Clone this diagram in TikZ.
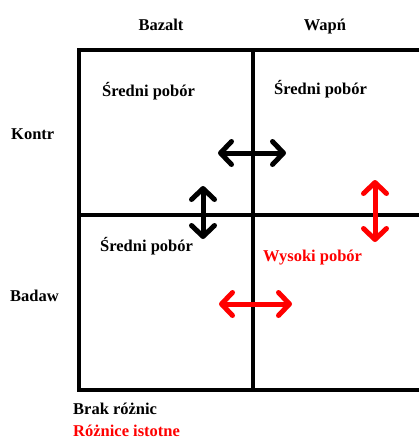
\documentclass[tikz,border=0pt]{standalone}
\usepackage{fontspec}
\setmainfont{Liberation Serif}
\usetikzlibrary{arrows.meta}
\tikzset{
  lbl/.style={font=\fontsize{16.5}{18}\selectfont\bfseries, inner sep=0pt, anchor=base west},
  redlbl/.style={lbl, text=red},
  grid/.style={line width=3.5pt},
  frame/.style={line width=4pt, line join=miter},
  dbl/.style={line width=5pt, line cap=round,
    {Straight Barb[length=11pt,width=23pt,round]}-{Straight Barb[length=11pt,width=23pt,round]}},
}
\begin{document}
\begin{tikzpicture}[x=1pt,y=-1pt]
\useasboundingbox (0,0) rectangle (419,439);
\begin{scope}
\clip (0,0) rectangle (419,439);
% grid
\coordinate (tl) at (79,50);
\coordinate (bl) at (79,390);
\coordinate (tr) at (425,50);
\coordinate (br) at (425,390);
\coordinate (ml) at (79,215);
\coordinate (mr) at (425,215);
\coordinate (mt) at (253,50);
\coordinate (mb) at (253,390);
\draw[frame] (tr) -- (tl) -- (bl) -- (br);
\draw[grid] (ml) -- (mr);
\draw[grid] (mt) -- (mb);
\end{scope}
% labels
\node[lbl, anchor=base] (bazalt) at (161,30) {Bazalt};
\node[lbl, anchor=base] (wapn) at (325,30) {Wapń};
\node[lbl] (kontr) at (11,139) {Kontr};
\node[lbl] (badaw) at (10,301) {Badaw};
\node[lbl] (s1) at (102,96) {Średni pobór};
\node[lbl] (s2) at (274,94) {Średni pobór};
\node[lbl] (s3) at (100,251) {Średni pobór};
\node[redlbl] (w4) at (263,261) {Wysoki pobór};
\node[lbl] (brak) at (73,414) {Brak różnic};
\node[redlbl] (roz) at (73,439-3) {Różnice istotne};
% arrows
\coordinate (h1a) at (218,153);
\coordinate (h1b) at (286,153);
\coordinate (v1a) at (203,186);
\coordinate (v1b) at (203,239);
\coordinate (v2a) at (375,180);
\coordinate (v2b) at (375,242);
\coordinate (h2a) at (219,304);
\coordinate (h2b) at (292,304);
\draw[dbl] (h1a) -- (h1b);
\draw[dbl] (v1a) -- (v1b);
\draw[dbl, red] (v2a) -- (v2b);
\draw[dbl, red] (h2a) -- (h2b);
\end{tikzpicture}
\end{document}
